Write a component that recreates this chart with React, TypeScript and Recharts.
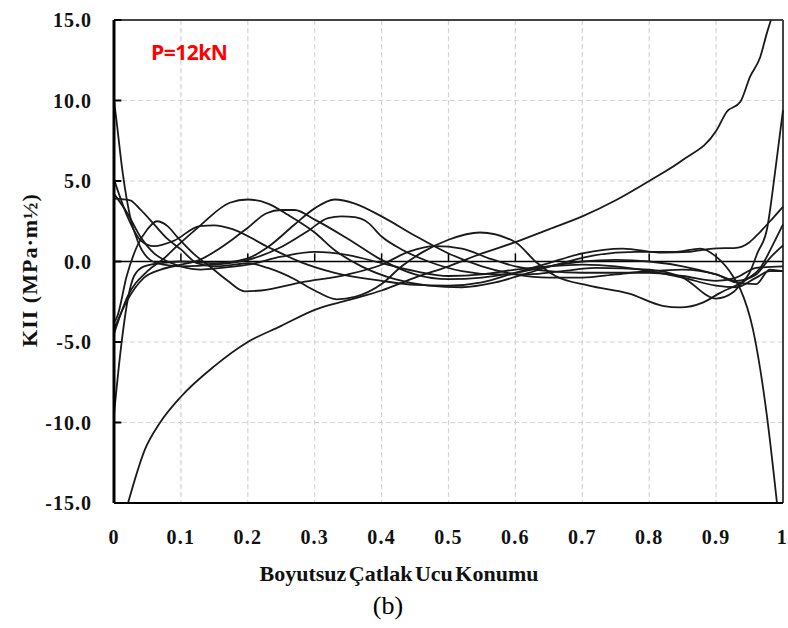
import React from 'react';
import { LineChart, Line, XAxis, YAxis, CartesianGrid, ReferenceLine } from 'recharts';

// Tick values
const xTicks = [0, 0.1, 0.2, 0.3, 0.4, 0.5, 0.6, 0.7, 0.8, 0.9, 1];
const yTicks = [-15, -10, -5, 0, 5, 10, 15];

// Curves: [position, KII]
const curveMono: [number, number][] = [
  [0.021, -15], [0.046, -11.7], [0.069, -10.0], [0.1, -8.4], [0.15, -6.5], [0.2, -5.0], [0.25, -4.0],
  [0.3, -3.0], [0.35, -2.4], [0.4, -1.8], [0.45, -1.0], [0.5, -0.3], [0.55, 0.5], [0.6, 1.2],
  [0.65, 2.0], [0.7, 2.8], [0.75, 3.8], [0.8, 5.0], [0.85, 6.3], [0.9, 8.1], [0.916, 9.3],
  [0.936, 9.9], [0.951, 11.5], [0.966, 12.7], [0.976, 14.2], [0.982, 15],
];
const curveA: [number, number][] = [
  [0, -4.5], [0.02, -2.2], [0.05, -0.6], [0.075, 0.2], [0.094, 0.95], [0.128, 2.2], [0.173, 3.65],
  [0.2, 3.85], [0.23, 3.6], [0.26, 2.9], [0.3, 1.8], [0.33, 0.7], [0.37, -0.3], [0.42, -1.1],
  [0.47, -1.5], [0.52, -1.6], [0.57, -1.3], [0.62, -0.7], [0.67, -0.1], [0.72, 0.4], [0.78, 0.6],
  [0.84, 0.6], [0.876, 0.8], [0.9, 0.3], [0.925, -0.9], [0.936, -1.7], [0.955, -4.2],
  [0.976, -9.6], [0.991, -15],
];
const curveB: [number, number][] = [
  [0, -4.2], [0.02, -2.4], [0.045, -1.0], [0.07, -0.5], [0.1, -0.2], [0.128, 0.1], [0.15, 0.6],
  [0.178, 1.4], [0.2, 2.1], [0.228, 3.0], [0.25, 3.2], [0.27, 3.2], [0.3, 2.6], [0.35, 1.4],
  [0.4, 0.1], [0.45, -0.8], [0.5, -1.1], [0.55, -1.0], [0.6, -0.7], [0.65, -0.3], [0.7, 0.0],
  [0.75, 0.1], [0.8, 0.0], [0.85, -0.3], [0.9, -0.8], [0.93, -1.2], [0.96, -0.8], [0.98, 0.2], [1, 1.0],
];
const curveC: [number, number][] = [
  [0, -9.5], [0.01, -5.5], [0.02, -2.5], [0.03, -0.9], [0.045, -0.3], [0.07, -0.1], [0.1, 0.0],
  [0.15, -0.1], [0.2, 0.2], [0.23, 0.9], [0.27, 2.3], [0.3, 3.3], [0.33, 3.85], [0.36, 3.6],
  [0.4, 2.8], [0.45, 1.6], [0.5, 0.5], [0.55, -0.3], [0.6, -0.8], [0.65, -1.0], [0.7, -1.0],
  [0.75, -0.8], [0.8, -0.6], [0.85, -0.5], [0.9, -0.8], [0.93, -1.3], [0.96, -1.4], [0.98, -0.5], [1, -0.6],
];
const curveD: [number, number][] = [
  [0, -3.8], [0.005, -3.4], [0.019, -0.9], [0.034, 0.9], [0.05, 2.0], [0.064, 2.5], [0.08, 2.2],
  [0.094, 1.55], [0.124, 0.3], [0.143, -0.3], [0.17, -1.2], [0.195, -1.85], [0.22, -1.8],
  [0.28, -1.3], [0.35, -0.8], [0.4, -0.2], [0.44, 0.6], [0.48, 0.95], [0.52, 0.8], [0.56, 0.2],
  [0.6, -0.3], [0.65, -0.6], [0.7, -0.7], [0.75, -0.7], [0.8, -0.7], [0.85, -0.9], [0.9, -1.2],
  [0.93, -1.0], [0.96, -0.4], [1, -0.3],
];
const curveE: [number, number][] = [
  [0, 5.1], [0.02, 2.8], [0.04, 1.3], [0.06, 0.95], [0.09, 1.3], [0.128, 2.2], [0.15, 2.25],
  [0.178, 2.0], [0.228, 0.95], [0.28, -0.05], [0.33, -0.7], [0.4, -1.2], [0.45, -1.45], [0.5, -1.5],
  [0.55, -1.3], [0.6, -0.7], [0.65, -0.1], [0.7, 0.5], [0.76, 0.8], [0.82, 0.55], [0.86, 0.6],
  [0.895, 0.8], [0.93, 0.85], [0.95, 1.2], [0.965, 1.8], [0.985, 2.7], [1, 3.4],
];
const curveG: [number, number][] = [
  [0, 3.9], [0.024, 3.8], [0.04, 3.2], [0.058, 2.4], [0.08, 1.4], [0.1, 0.75], [0.124, -0.1],
  [0.15, -0.3], [0.18, -0.2], [0.2, -0.1], [0.23, -0.4], [0.27, -1.1], [0.3, -1.8], [0.333, -2.35],
  [0.36, -2.2], [0.4, -1.4], [0.43, -0.3], [0.46, 0.55], [0.5, 1.35], [0.547, 1.8], [0.6, 1.2],
  [0.63, 0.0], [0.66, -0.9], [0.71, -1.5], [0.77, -2.0], [0.82, -2.75], [0.846, -2.85],
  [0.88, -2.55], [0.906, -1.95], [0.946, -1.1], [0.966, -0.4], [0.985, 1.05], [1, 2.3],
];
const curveS: [number, number][] = [
  [0, 10], [0.003, 9.0], [0.013, 5.5], [0.024, 2.8], [0.036, 1.2], [0.054, 0.1], [0.074, -0.2],
  [0.1, -0.3], [0.15, -0.2], [0.2, 0.1], [0.25, 0.9], [0.29, 1.9], [0.32, 2.7], [0.34, 2.8],
  [0.36, 2.75], [0.38, 2.4], [0.4, 1.55], [0.43, 0.75], [0.47, 0.0], [0.52, -0.6], [0.57, -0.8],
  [0.62, -0.8], [0.67, -0.6], [0.72, -0.4], [0.8, -0.5], [0.85, -1.0], [0.9, -2.3], [0.926, -1.9],
  [0.935, -1.5], [0.95, -0.7], [0.962, 0.55], [0.976, 2.0], [0.988, 5.5], [1, 9.4],
];
const curveI: [number, number][] = [
  [0, 4.2], [0.02, 3.0], [0.04, 1.5], [0.06, 0.5], [0.08, 0.0], [0.1, -0.3], [0.13, -0.5],
  [0.16, -0.4], [0.2, -0.2], [0.25, 0.3], [0.3, 0.6], [0.35, 0.4], [0.4, -0.1], [0.45, -0.6],
  [0.5, -0.9], [0.55, -0.8], [0.6, -0.5], [0.65, -0.3], [0.7, -0.2], [0.75, -0.3], [0.8, -0.6],
  [0.85, -1.0], [0.9, -1.5], [0.93, -1.6], [0.96, -1.0], [0.98, -0.6], [1, -0.6],
];

const curves = [curveMono, curveA, curveB, curveC, curveD, curveE, curveG, curveS, curveI];
const toRows = (c: [number, number][]) => c.map(([x, y]) => ({ x, y }));

const serif = '"Liberation Serif", "Times New Roman", serif';

export default function App() {
  return (
    <div style={{ position: 'absolute', left: 0, top: 0, width: 788, height: 628, background: '#fff' }}>
      <LineChart width={788} height={628} margin={{ top: 20, right: 5, bottom: 95, left: 0 }}>
        <CartesianGrid stroke="#d4d4d4" strokeDasharray="5 3" strokeWidth={1.2} />
        <XAxis
          type="number"
          dataKey="x"
          domain={[0, 1]}
          ticks={xTicks}
          height={30}
          tickSize={0}
          tickMargin={27}
          axisLine={{ stroke: '#000', strokeWidth: 2 }}
          tick={{ fill: '#111', fontFamily: serif, fontWeight: 700, fontSize: 20, letterSpacing: 1.2 }}
          tickFormatter={(v: number) => String(v)}
        />
        <YAxis
          type="number"
          dataKey="y"
          domain={[-15, 15]}
          ticks={yTicks}
          width={114}
          tickSize={0}
          tickMargin={22}
          axisLine={{ stroke: '#000', strokeWidth: 3 }}
          tick={{ fill: '#111', fontFamily: serif, fontWeight: 700, fontSize: 20, letterSpacing: 1 }}
          tickFormatter={(v: number) => v.toFixed(1)}
        />
        <ReferenceLine y={15} stroke="#444" strokeWidth={2} />
        <ReferenceLine x={1} stroke="#444" strokeWidth={2} />
        <ReferenceLine y={0} stroke="#000" strokeWidth={1.6} />
        {yTicks.map((v) => (
          <ReferenceLine key={'yt' + v} segment={[{ x: 0, y: v }, { x: 0.011, y: v }]} stroke="#000" strokeWidth={2} />
        ))}
        {xTicks.slice(1, -1).map((v) => (
          <ReferenceLine key={'xt' + v} segment={[{ x: v, y: 0 }, { x: v, y: 0.5 }]} stroke="#000" strokeWidth={1.5} />
        ))}
        {curves.map((c, i) => (
          <Line
            key={i}
            data={toRows(c)}
            dataKey="y"
            type="monotone"
            stroke="#1a1a1a"
            strokeWidth={1.8}
            dot={false}
            isAnimationActive={false}
          />
        ))}
      </LineChart>
      <div style={{ position: 'absolute', left: 151, top: 38, color: '#ff0000', fontFamily: '"Open Sans", "Liberation Sans", sans-serif', fontWeight: 700, fontSize: 21, letterSpacing: -0.5 }}>
        P=12kN
      </div>
      <div style={{ position: 'absolute', left: 0, width: 798, top: 561, textAlign: 'center', fontFamily: serif, fontWeight: 700, fontSize: 22, color: '#111', wordSpacing: -3 }}>
        Boyutsuz Çatlak Ucu Konumu
      </div>
      <div style={{ position: 'absolute', left: 0, width: 776, top: 591, textAlign: 'center', fontFamily: serif, fontSize: 26, color: '#000' }}>
        (b)
      </div>
      <div style={{ position: 'absolute', left: 30, top: 270, width: 0, height: 0 }}>
        <div style={{ position: 'absolute', transform: 'translate(-50%, -50%) rotate(-90deg)', whiteSpace: 'nowrap', fontFamily: serif, fontWeight: 700, fontSize: 22, letterSpacing: 1, color: '#111' }}>
          KII (MPa·m½)
        </div>
      </div>
    </div>
  );
}
